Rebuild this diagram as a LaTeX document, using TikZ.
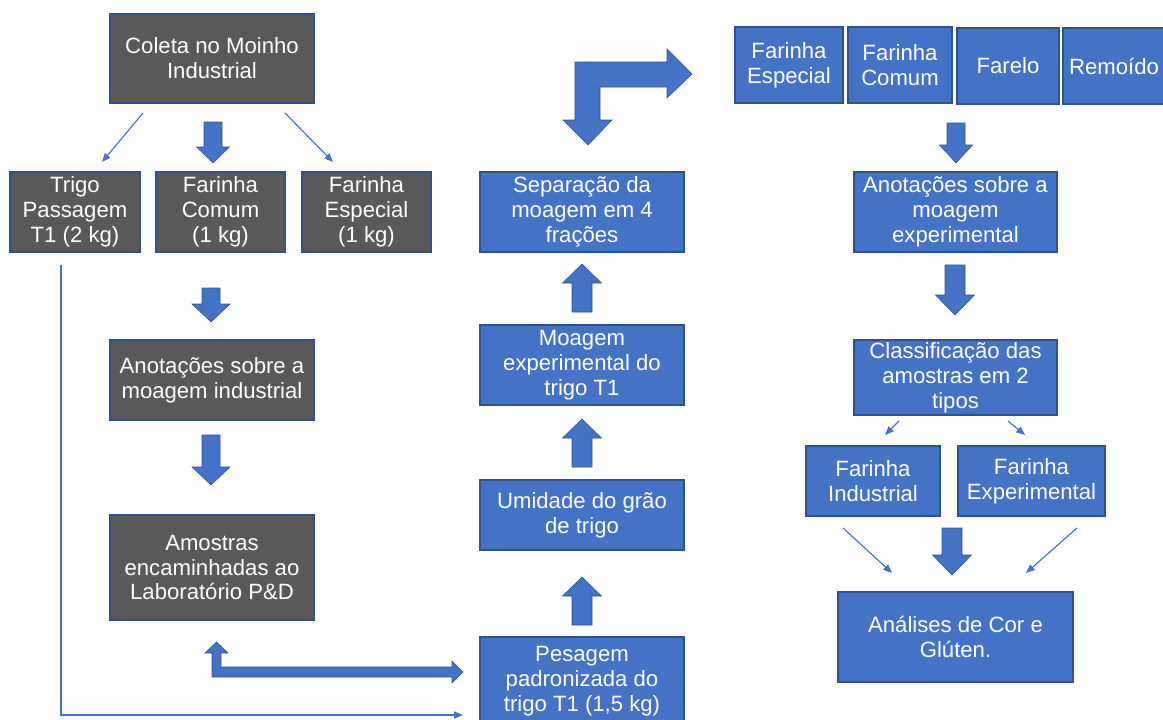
\documentclass[tikz,border=0pt]{standalone}
\usepackage{fontspec}
\setmainfont{Liberation Sans}
\usetikzlibrary{arrows.meta,positioning}
\definecolor{greyfill}{HTML}{595959}
\definecolor{bluefill}{HTML}{4472C4}
\definecolor{blueedge}{HTML}{2F528F}
\def\u{0.02cm}
\newcommand{\vblk}[6]{\draw[blk] (#1-#5,#2) -- (#1+#5,#2) -- (#1+#5,#3) -- (#1+#6,#3) -- (#1,#4) -- (#1-#6,#3) -- (#1-#5,#3) -- cycle;}
\begin{document}
\begin{tikzpicture}[x=0.02cm, y=-0.02cm,
    box/.style={draw=blueedge, line width=0.6pt, text=white, align=center, inner sep=0pt, font={\fontsize{12.6pt}{14.2pt}\selectfont}},
    greybox/.style={box, fill=greyfill},
    bluebox/.style={box, fill=bluefill},
    blk/.style={fill=bluefill, draw=blueedge, line width=0.3pt},
    thinarr/.style={draw=bluefill, line width=0.65pt, -{Triangle[length=5pt,width=4pt]}}
]
\useasboundingbox (0,0) rectangle (1163,720);
\node[greybox, minimum width=204*\u, minimum height=89*\u] (coleta) at (212,58.5) {Coleta no Moinho\\Industrial};
\node[greybox, minimum width=130*\u, minimum height=80*\u] (trigo) at (75,212) {Trigo\\Passagem\\T1 (2 kg)};
\node[greybox, minimum width=129*\u, minimum height=80*\u] (comumA) at (220.5,212) {Farinha\\Comum\\(1 kg)};
\node[greybox, minimum width=129*\u, minimum height=80*\u] (especialA) at (366.5,212) {Farinha\\Especial\\(1 kg)};
\node[greybox, minimum width=204*\u, minimum height=80*\u] (anotind) at (212,380) {Anotações sobre a\\moagem industrial};
\node[greybox, minimum width=204*\u, minimum height=105*\u] (amostras) at (212,567.5) {Amostras\\encaminhadas ao\\Laboratório P\&D};

\node[bluebox, minimum width=204*\u, minimum height=80*\u] (separacao) at (582,212) {Separação da\\moagem em 4\\frações};
\node[bluebox, minimum width=204*\u, minimum height=80*\u] (moagem) at (582,365) {Moagem\\experimental do\\trigo T1};
\node[bluebox, minimum width=204*\u, minimum height=70*\u] (umidade) at (582,515) {Umidade do grão\\de trigo};
\node[bluebox, minimum width=204*\u, minimum height=88*\u] (pesagem) at (582,681) {Pesagem\\padronizada do\\trigo T1 (1,5 kg)};

\node[bluebox, minimum width=108*\u, minimum height=76*\u] (especialB) at (789,65) {Farinha\\Especial};
\node[bluebox, minimum width=104*\u, minimum height=76*\u] (comumB) at (900,65) {Farinha\\Comum};
\node[bluebox, minimum width=102*\u, minimum height=76*\u] (farelo) at (1008,66) {Farelo};
\node[bluebox, minimum width=102*\u, minimum height=76*\u] (remoido) at (1114,66) {Remoído};
\node[bluebox, minimum width=203*\u, minimum height=80*\u] (anotexp) at (955.5,212) {Anotações sobre a\\moagem\\experimental};
\node[bluebox, minimum width=203*\u, minimum height=75*\u] (classif) at (955.5,377.5) {Classificação das\\amostras em 2\\tipos};
\node[bluebox, minimum width=134*\u, minimum height=70*\u] (farind) at (873,481) {Farinha\\Industrial};
\node[bluebox, minimum width=147*\u, minimum height=70*\u] (farexp) at (1031.5,481) {Farinha\\Experimental};
\node[bluebox, minimum width=235*\u, minimum height=90*\u] (analises) at (955.5,637) {Análises de Cor e\\Glúten.};

\vblk{213}{122}{147}{163}{9}{16.5}
\vblk{211}{288}{304}{322}{9}{19}
\vblk{211}{435}{467}{485}{9}{19}
\vblk{582}{312}{283}{264}{10}{19.5}
\vblk{582}{467}{438}{419}{10}{19.5}
\vblk{582}{625}{596}{577}{10}{19.5}
\vblk{956}{123}{145}{163}{9}{16.5}
\vblk{955}{265}{295}{315}{10}{19.5}
\vblk{952}{528}{555}{575}{10}{19.5}

\draw[blk] (563,120) -- (588,145) -- (612,120) -- (600,120) -- (600,87) -- (667,87) -- (667,98) -- (692,74) -- (667,49) -- (667,62) -- (575,62) -- (575,120) -- cycle;
\draw[blk] (212,677) -- (452,677) -- (452,683) -- (463,672) -- (452,661) -- (452,667) -- (221,667) -- (221,653) -- (228,653) -- (216.5,642) -- (205,653) -- (212,653) -- cycle;

\coordinate (c1) at (143,113);
\coordinate (c2) at (102,162);
\coordinate (c3) at (285,113);
\coordinate (c4) at (333,162);
\coordinate (c5) at (899,421);
\coordinate (c6) at (885,435);
\coordinate (c7) at (1008,421);
\coordinate (c8) at (1025,435);
\coordinate (c9) at (843,528);
\coordinate (c10) at (892,573);
\coordinate (c11) at (1077,528);
\coordinate (c12) at (1026,573);
\coordinate (trunk) at (61,265);
\coordinate (trunkend) at (463,715);
\draw[thinarr] (c1) -- (c2);
\draw[thinarr] (c3) -- (c4);
\draw[thinarr] (c5) -- (c6);
\draw[thinarr] (c7) -- (c8);
\draw[thinarr] (c9) -- (c10);
\draw[thinarr] (c11) -- (c12);
\draw[thinarr] (trunk) |- (trunkend);
\end{tikzpicture}
\end{document}
